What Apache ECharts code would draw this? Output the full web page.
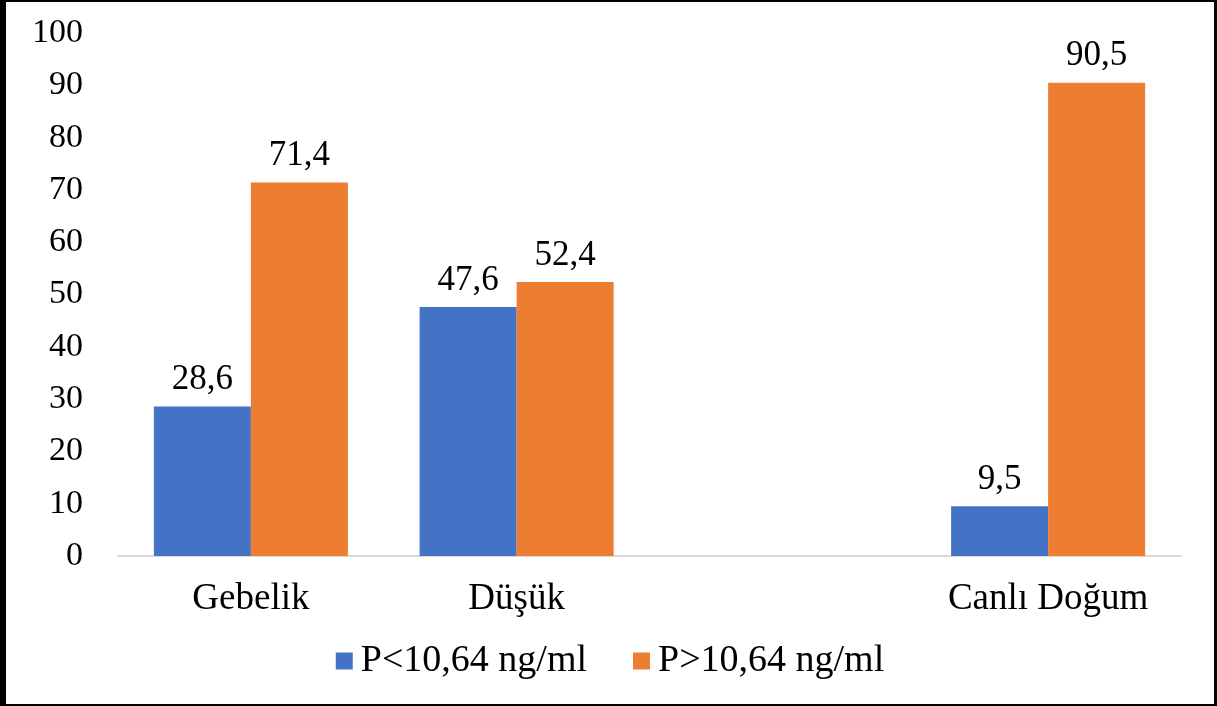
<!DOCTYPE html>
<html><head><meta charset="utf-8">
<script src="https://cdn.jsdelivr.net/npm/echarts@6/dist/echarts.min.js"></script>
<style>html,body{margin:0;padding:0;background:#fff}#c{width:1217px;height:706px;box-sizing:border-box;border:2px solid #000;border-left:6px solid #000;border-right:3px solid #000}</style>
</head><body><div id="c"></div>
<script>
const categories = ['Gebelik', 'Düşük', '', 'Canlı Doğum'];
const seriesNames = ['P<10,64 ng/ml', 'P>10,64 ng/ml'];
const lowValues = [28.6, 47.6, null, 9.5];
const highValues = [71.4, 52.4, null, 90.5];
const yTicks = [0, 100, 10];

const font = 'Liberation Serif, Times New Roman, serif';
const chart = echarts.init(document.getElementById('c'));
const lbl = {show: true, position: 'top', distance: 9, color: '#000', fontFamily: font, fontSize: 35,
  formatter: p => p.value == null ? '' : String(p.value.toFixed(1)).replace('.', ',')};
chart.setOption({
  animation: false,
  textStyle: {fontFamily: font},
  grid: {left: 112, right: 33, top: 31, bottom: 148, containLabel: false},
  xAxis: {type: 'category', data: categories,
    axisLine: {lineStyle: {color: '#d9d9d9', width: 2}}, axisTick: {show: false},
    axisLabel: {color: '#000', fontFamily: font, fontSize: 37, margin: 25}},
  yAxis: {type: 'value', min: yTicks[0], max: yTicks[1], interval: yTicks[2],
    splitLine: {show: false}, axisLine: {show: false}, axisTick: {show: false},
    axisLabel: {color: '#000', fontFamily: font, fontSize: 34, margin: 35}},
  legend: {bottom: 19, left: 'center', itemWidth: 17, itemHeight: 17, itemGap: 46, icon: 'rect',
    textStyle: {color: '#000', fontFamily: font, fontSize: 38, padding: [0, 0, 0, 3]}},
  series: [
    {name: seriesNames[0], type: 'bar', data: lowValues, itemStyle: {color: '#4472c4'},
      barGap: '0%', barCategoryGap: '27%', label: lbl},
    {name: seriesNames[1], type: 'bar', data: highValues, itemStyle: {color: '#ed7d31'},
      barGap: '0%', barCategoryGap: '27%', label: lbl}
  ]
});
</script></body></html>
